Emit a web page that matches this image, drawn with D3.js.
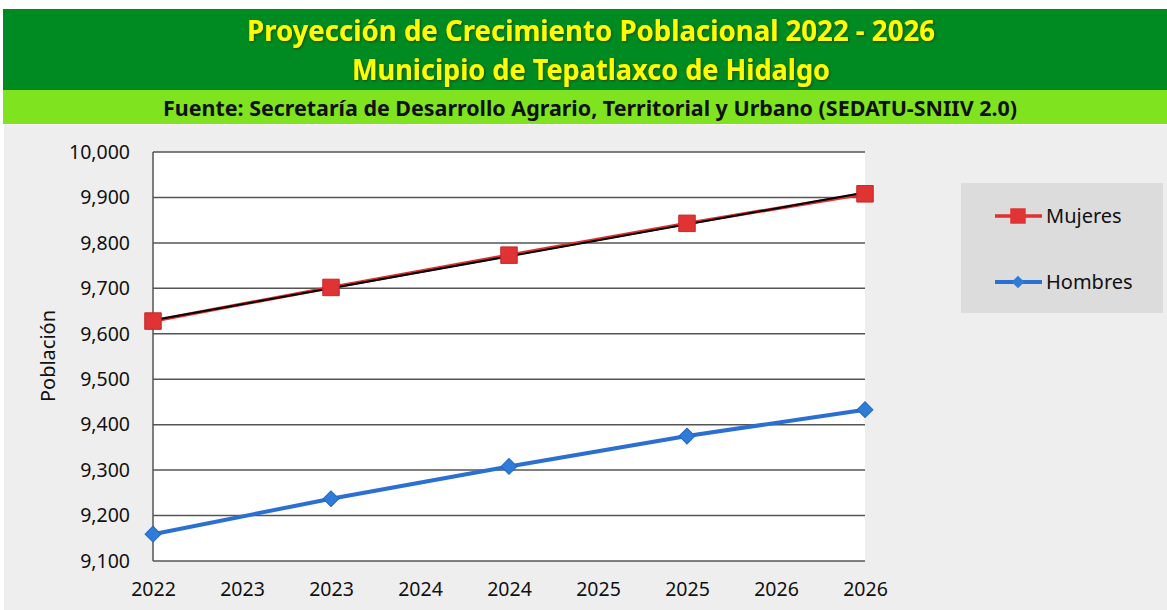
<!DOCTYPE html>
<meta charset="utf-8">
<style>
body { margin: 0; background: #fff; }
text { font-family: "Noto Sans", "Open Sans", sans-serif; }
.axis path { display: none; }
.axis line { display: none; }
</style>
<svg width="1167" height="610"></svg>
<script src="https://d3js.org/d3.v7.min.js"></script>
<script>

var tickLabels = ["2022", "2023", "2023", "2024", "2024", "2025", "2025", "2026", "2026"];
var pointIdx = [0, 2, 4, 6, 8];
var mujeres = [9628, 9702, 9773, 9843, 9908];
var hombres = [9159, 9237, 9308, 9375, 9433];
var trendIdx = [0, 8];
var trendMujeres = [9630, 9911];
var yTicks = [9100, 9200, 9300, 9400, 9500, 9600, 9700, 9800, 9900, 10000];

var svg = d3.select("svg"),
    margin = {top: 152, right: 302, bottom: 49, left: 153},
    width = +svg.attr("width") - margin.left - margin.right,
    height = +svg.attr("height") - margin.top - margin.bottom;

var defs = svg.append("defs");
defs.append("filter").attr("id", "shadow")
  .append("feDropShadow")
    .attr("dx", 1).attr("dy", 1).attr("stdDeviation", 0.8)
    .attr("flood-color", "#1a3a00").attr("flood-opacity", 0.9);

// banner + background
svg.append("rect").attr("x", 3).attr("y", 9).attr("width", 1164).attr("height", 81).attr("fill", "#008a22");
svg.append("rect").attr("x", 3).attr("y", 90).attr("width", 1164).attr("height", 34).attr("fill", "#7fe31f");
svg.append("rect").attr("x", 4).attr("y", 125).attr("width", 1163).attr("height", 485).attr("fill", "#eeeeee");

svg.append("text")
    .attr("x", 591).attr("y", 41)
    .attr("text-anchor", "middle")
    .attr("textLength", 688).attr("lengthAdjust", "spacingAndGlyphs")
    .attr("font-size", 29).attr("font-weight", "bold")
    .attr("fill", "#ffff00").attr("filter", "url(#shadow)")
    .text("Proyección de Crecimiento Poblacional 2022 - 2026");

svg.append("text")
    .attr("x", 591).attr("y", 80)
    .attr("text-anchor", "middle")
    .attr("textLength", 478).attr("lengthAdjust", "spacingAndGlyphs")
    .attr("font-size", 29).attr("font-weight", "bold")
    .attr("fill", "#ffff00").attr("filter", "url(#shadow)")
    .text("Municipio de Tepatlaxco de Hidalgo");

svg.append("text")
    .attr("x", 590).attr("y", 116)
    .attr("text-anchor", "middle")
    .attr("textLength", 854).attr("lengthAdjust", "spacingAndGlyphs")
    .attr("font-size", 21).attr("font-weight", "bold")
    .attr("fill", "#111")
    .text("Fuente: Secretaría de Desarrollo Agrario, Territorial y Urbano (SEDATU-SNIIV 2.0)");

var x = d3.scaleLinear().domain([0, tickLabels.length - 1]).range([0, width]),
    y = d3.scaleLinear().domain([9100, 10000]).range([height, 0]);

var g = svg.append("g")
    .attr("transform", "translate(" + margin.left + "," + margin.top + ")");

g.append("rect").attr("width", width).attr("height", height).attr("fill", "#fff");

// gridlines
g.selectAll(".grid")
  .data(yTicks)
  .enter().append("line")
    .attr("x1", 0).attr("x2", width)
    .attr("y1", function(d) { return y(d); })
    .attr("y2", function(d) { return y(d); })
    .attr("stroke", "#555").attr("stroke-width", 1.5);

g.append("line")
    .attr("x1", 0).attr("x2", 0).attr("y1", 0).attr("y2", height)
    .attr("stroke", "#555").attr("stroke-width", 1.5);

g.append("g")
    .attr("class", "axis axis--y")
    .call(d3.axisLeft(y).tickValues(yTicks).tickFormat(d3.format(",")).tickPadding(17))
  .selectAll("text")
    .attr("font-size", 19.5).attr("fill", "#111")
    .style("font-family", "'Noto Sans', sans-serif");

g.append("g")
    .attr("class", "axis axis--x")
    .attr("transform", "translate(0," + height + ")")
    .call(d3.axisBottom(x).tickValues(d3.range(tickLabels.length))
      .tickFormat(function(i) { return tickLabels[i]; }).tickPadding(15))
  .selectAll("text")
    .attr("font-size", 19.5).attr("fill", "#111")
    .style("font-family", "'Noto Sans', sans-serif");

svg.append("text")
    .attr("transform", "translate(55,356) rotate(-90)")
    .attr("text-anchor", "middle")
    .attr("font-size", 20).attr("fill", "#111")
    .text("Población");

var line = d3.line()
    .x(function(d) { return x(d[0]); })
    .y(function(d) { return y(d[1]); });

var mData = pointIdx.map(function(i, k) { return [i, mujeres[k]]; }),
    hData = pointIdx.map(function(i, k) { return [i, hombres[k]]; }),
    tData = trendIdx.map(function(i, k) { return [i, trendMujeres[k]]; });

g.append("path").datum(hData).attr("d", line)
    .attr("fill", "none").attr("stroke", "#2a6fd1").attr("stroke-width", 4);

g.append("path").datum(mData).attr("d", line)
    .attr("fill", "none").attr("stroke", "#e03030").attr("stroke-width", 3.5);

g.append("path").datum(tData).attr("d", line)
    .attr("fill", "none").attr("stroke", "#000").attr("stroke-width", 2);

var square = d3.symbol().type(d3.symbolSquare).size(272),
    diamond = d3.symbol().type(d3.symbolSquare).size(125);

g.selectAll(".m")
  .data(mData)
  .enter().append("path")
    .attr("transform", function(d) { return "translate(" + x(d[0]) + "," + y(d[1]) + ")"; })
    .attr("d", square)
    .attr("fill", "#e03333").attr("stroke", "#c42828").attr("stroke-width", 1);

g.selectAll(".h")
  .data(hData)
  .enter().append("path")
    .attr("transform", function(d) { return "translate(" + x(d[0]) + "," + y(d[1]) + ") rotate(45)"; })
    .attr("d", diamond)
    .attr("fill", "#2e7bd8").attr("stroke", "#2367c4").attr("stroke-width", 1);

// legend
var legend = svg.append("g");
legend.append("rect").attr("x", 961).attr("y", 183).attr("width", 202).attr("height", 130).attr("fill", "#dcdcdc");

var items = [
  {name: "Mujeres", color: "#e03030", sym: d3.symbol().type(d3.symbolSquare).size(240), rot: 0, fill: "#e03333", y: 216, w: 3.5},
  {name: "Hombres", color: "#2a6fd1", sym: d3.symbol().type(d3.symbolSquare).size(80), rot: 45, fill: "#2e7bd8", y: 282, w: 4}
];

items.forEach(function(it) {
  legend.append("line").attr("x1", 995).attr("x2", 1042).attr("y1", it.y).attr("y2", it.y)
      .attr("stroke", it.color).attr("stroke-width", it.w);
  legend.append("path").attr("transform", "translate(1018," + it.y + ") rotate(" + it.rot + ")")
      .attr("d", it.sym).attr("fill", it.fill);
  legend.append("text").attr("x", 1046).attr("y", it.y).attr("dy", "0.35em")
      .attr("font-size", 20).attr("fill", "#111").text(it.name);
});

</script>
